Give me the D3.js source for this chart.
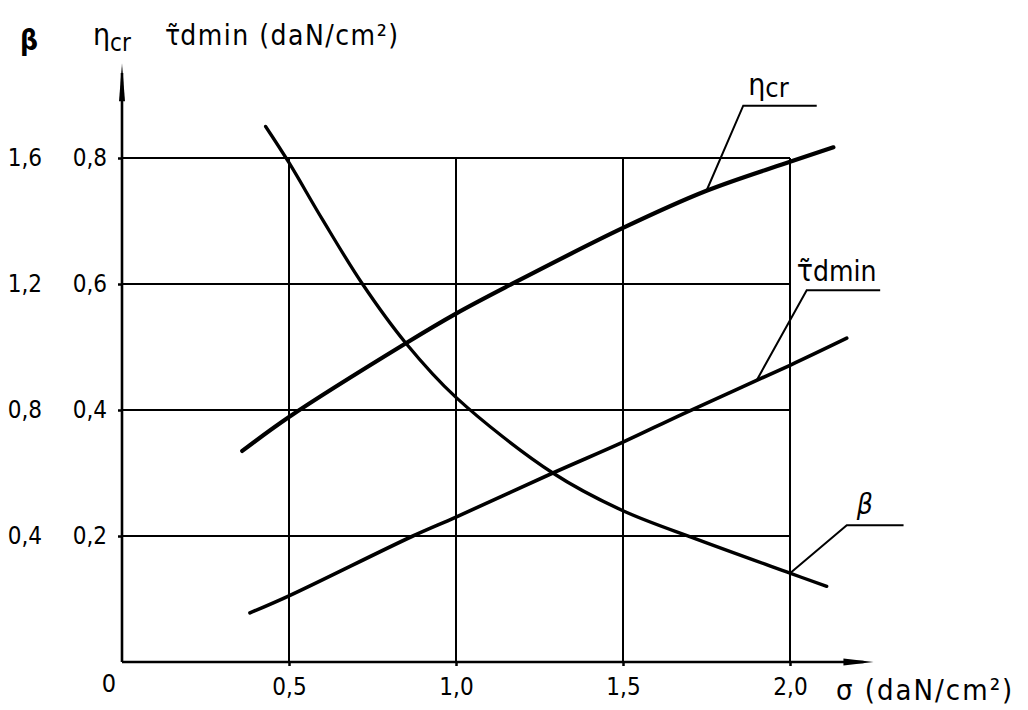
<!DOCTYPE html>
<html>
<head>
<meta charset="utf-8">
<script src="https://cdn.jsdelivr.net/npm/d3@7"></script>
<style>
  body { margin: 0; background: #fff; }
  svg text { font-family: "DejaVu Sans Condensed", "DejaVu Sans", sans-serif; fill: #000; }
</style>
</head>
<body>
<div id="chart"></div>
<script>
// sigma (daN/cm2) vs eta_cr / tau_dmin (right column) and beta (left column, double scale)
const sigmaTicks = [0.5, 1.0, 1.5, 2.0];
const etaTicks = [0.2, 0.4, 0.6, 0.8];
const betaTicks = [0.4, 0.8, 1.2, 1.6];

const etaCr = [
  [0.36, 0.335], [0.5, 0.389], [0.85, 0.506], [1.0, 0.553], [1.16, 0.598],
  [1.5, 0.689], [1.75, 0.748], [2.0, 0.794], [2.13, 0.817]
];
const tauDmin = [
  [0.383, 0.078], [0.5, 0.105], [0.871, 0.2], [1.0, 0.23], [1.29, 0.3],
  [1.5, 0.349], [1.68, 0.394], [2.0, 0.471], [2.17, 0.514]
];
const beta = [
  [0.43, 1.70], [0.5, 1.585], [0.6, 1.405], [0.72, 1.2], [0.85, 1.012], [1.0, 0.84],
  [1.29, 0.6], [1.5, 0.48], [1.72, 0.39], [2.0, 0.282], [2.11, 0.24]
];

// leaders: point on curve -> elbow -> end of shelf (in data units)
const leaders = [
  { name: "eta", on: [1.75, 0.748], elbow: [1.86, 0.883], end: [2.08, 0.883] },
  { name: "tau", on: [1.9, 0.447], elbow: [2.05, 0.59], end: [2.27, 0.59] },
  { name: "beta", on: [2.0, 0.141], elbow: [2.17, 0.217], end: [2.34, 0.217] }
];

const width = 1028, height = 710;
const x0 = 122, y0 = 662;

const x = d3.scaleLinear().domain([0, 2.0]).range([x0, 790]);
const y = d3.scaleLinear().domain([0, 0.8]).range([y0, 158]);
const yb = d3.scaleLinear().domain([0, 1.6]).range([y0, 158]);

const svg = d3.select("#chart").append("svg")
  .attr("width", width).attr("height", height);

const fmt = (d) => d3.format(".1f")(d).replace(".", ",");

// grid
svg.append("g").selectAll("line").data(etaTicks).join("line")
  .attr("x1", x(0)).attr("x2", x(2.0))
  .attr("y1", d => y(d)).attr("y2", d => y(d))
  .attr("stroke", "#000").attr("stroke-width", 2);
svg.append("g").selectAll("line").data(sigmaTicks).join("line")
  .attr("x1", d => x(d)).attr("x2", d => x(d))
  .attr("y1", y(0)).attr("y2", y(0.8))
  .attr("stroke", "#000").attr("stroke-width", 2);

// axes lines with arrow tips
svg.append("line").attr("x1", x(0)).attr("x2", x(2.22)).attr("y1", y(0)).attr("y2", y(0))
  .attr("stroke", "#000").attr("stroke-width", 2.6);
svg.append("path")
  .attr("d", `M${x(2.25)},${y(0)} L${x(2.16)},${y(0) - 3.5} L${x(2.16)},${y(0) + 3.5}Z`)
  .attr("fill", "#000");
svg.append("line").attr("x1", x(0)).attr("x2", x(0)).attr("y1", y(0)).attr("y2", y(0.935))
  .attr("stroke", "#000").attr("stroke-width", 2.6);
svg.append("path")
  .attr("d", `M${x(0)},${y(0.95)} L${x(0) - 3},${y(0.89)} L${x(0) + 3},${y(0.89)}Z`)
  .attr("fill", "#000");

// tick labels
const xAxis = svg.append("g").attr("transform", `translate(0,${y0})`)
  .call(d3.axisBottom(x).tickValues(sigmaTicks).tickFormat(fmt).tickSize(4).tickPadding(12));
const yAxis = svg.append("g").attr("transform", `translate(${x0},0)`)
  .call(d3.axisLeft(y).tickValues(etaTicks).tickFormat(fmt).tickSize(4).tickPadding(11));
const ybAxis = svg.append("g").attr("transform", `translate(${x0 - 78},0)`)
  .call(d3.axisLeft(yb).tickValues(betaTicks).tickFormat(fmt).tickSize(0).tickPadding(2));
[xAxis, yAxis, ybAxis].forEach(a => {
  a.select(".domain").remove();
  a.selectAll(".tick line").attr("stroke", "#000").attr("stroke-width", 2.5);
  a.selectAll("text").attr("font-size", 24).attr("font-family", null);
});
svg.append("text").attr("x", x0 - 6).attr("y", y0 + 30).attr("text-anchor", "end")
  .attr("font-size", 25).text("0");

// curves
const line = d3.line().x(d => x(d[0])).y(d => y(d[1])).curve(d3.curveCatmullRom.alpha(0.5));
const lineB = d3.line().x(d => x(d[0])).y(d => yb(d[1])).curve(d3.curveCatmullRom.alpha(0.5));
svg.append("path").attr("d", line(etaCr)).attr("fill", "none")
  .attr("stroke", "#000").attr("stroke-width", 4.2).attr("stroke-linecap", "round");
svg.append("path").attr("d", line(tauDmin)).attr("fill", "none")
  .attr("stroke", "#000").attr("stroke-width", 3.6).attr("stroke-linecap", "round");
svg.append("path").attr("d", lineB(beta)).attr("fill", "none")
  .attr("stroke", "#000").attr("stroke-width", 3.3).attr("stroke-linecap", "round");

// leader lines
svg.append("g").selectAll("polyline").data(leaders).join("polyline")
  .attr("points", d => [d.on, d.elbow, d.end].map(p => [x(p[0]), y(p[1])].join(",")).join(" "))
  .attr("fill", "none").attr("stroke", "#000").attr("stroke-width", 2);

// curve labels
const lEta = svg.append("text").attr("x", x(1.875)).attr("y", y(0.9)).attr("font-size", 30);
lEta.append("tspan").text("η");
lEta.append("tspan").attr("font-size", 27).attr("dy", 2).text("cr");
const lTau = svg.append("text").attr("x", x(2.02)).attr("y", y(0.605)).attr("font-size", 30);
lTau.append("tspan").text("τ̃");
lTau.append("tspan").attr("font-size", 28).text("dmin");
svg.append("text").attr("x", x(2.2)).attr("y", y(0.235)).attr("font-size", 28)
  .attr("font-style", "italic").text("β");

// axis titles
svg.append("text").attr("x", 20).attr("y", 50).attr("font-size", 28).attr("font-weight", "bold").text("β");
const tEta = svg.append("text").attr("x", 93).attr("y", 45).attr("font-size", 30);
tEta.append("tspan").text("η");
tEta.append("tspan").attr("font-size", 24).attr("dy", 6).text("cr");
const tTau = svg.append("text").attr("x", 165).attr("y", 45).attr("font-size", 28);
tTau.append("tspan").text("τ̃");
tTau.append("tspan").attr("letter-spacing", 1.5).text("dmin (daN/cm²)");
svg.append("text").attr("x", 836).attr("y", 700).attr("font-size", 29)
  .attr("letter-spacing", 2).text("σ (daN/cm²)");
</script>
</body>
</html>
